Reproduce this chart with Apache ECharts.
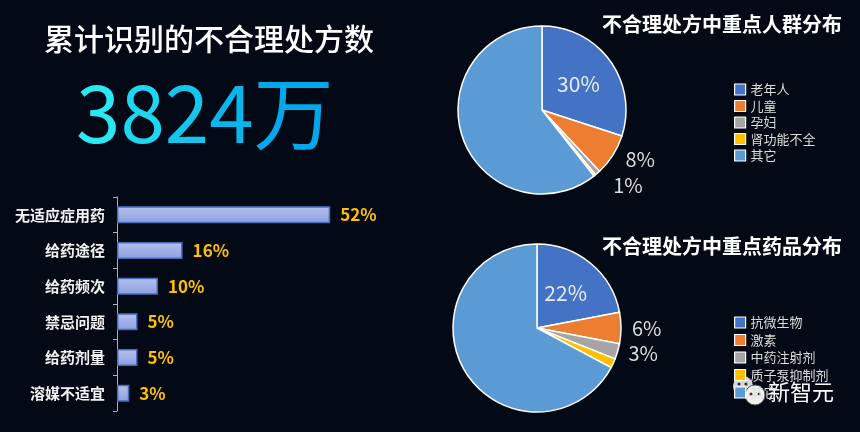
<!DOCTYPE html>
<html>
<head>
<meta charset="utf-8">
<script src="https://cdn.jsdelivr.net/npm/echarts@6/dist/echarts.min.js"></script>
<style>
  html, body { margin: 0; padding: 0; background: #040a15; }
  #main { width: 860px; height: 432px; }
</style>
</head>
<body>
<div id="main"></div>
<script>
// 不合理处方数据
var barCats = ['无适应症用药', '给药途径', '给药频次', '禁忌问题', '给药剂量', '溶媒不适宜'];
var barValues = [52, 16, 10, 5, 5, 3];

var groupNames = ['老年人', '儿童', '孕妇', '肾功能不全', '其它'];
var groupValues = [30, 8, 1, 0.4, 60.6];

var drugNames = ['抗微生物', '激素', '中药注射剂', '质子泵抑制剂', '其它'];
var drugValues = [22, 6, 3, 1.8, 67.2];

var pieColors = ['#4472c4', '#ed7d31', '#a5a5a5', '#ffc000', '#5b9bd5'];
var FONT = '"Noto Sans CJK SC", "Noto Sans", sans-serif';

(function () {
    var chart = echarts.init(document.getElementById('main'));

    // 每个扇区的标签：第一个在内部，指定的在外部，其余不显示
    function pieData(names, values, insideIdx, outsideIdx, lineLen) {
        return names.map(function (n, i) {
            var item = { name: n, value: values[i] };
            var k = outsideIdx.indexOf(i);
            if (i === insideIdx) {
                item.label = { show: true, position: 'inside', color: '#e6ecf6', fontSize: 21 };
            } else if (k >= 0) {
                item.label = { show: true, position: 'outside', color: '#dcdcdc', fontSize: 20 };
                item.labelLine = { show: false, length: lineLen[k], length2: 0 };
            } else {
                item.label = { show: false };
            }
            return item;
        });
    }

    var pieCommon = {
        type: 'pie',
        radius: 84,
        startAngle: 90,
        clockwise: true,
        avoidLabelOverlap: false,
        silent: true,
        itemStyle: { borderColor: '#ffffff', borderWidth: 1.5 },
        label: {
            fontFamily: FONT,
            formatter: function (p) { return Math.round(p.value) + '%'; }
        },
        labelLine: { show: false, length: 6, length2: 0 },
        labelLayout: { hideOverlap: false }
    };

    var legendCommon = {
        orient: 'vertical',
        left: 729,
        itemWidth: 11,
        itemHeight: 11,
        icon: 'rect',
        itemStyle: { borderColor: '#ffffff', borderWidth: 1.2 },
        textStyle: { color: '#dcdcdc', fontSize: 13, fontFamily: FONT },
        selectedMode: false
    };

    var numColors = ['#2ae8f2', '#1ed6f0', '#12c6ee', '#08b6ec', '#02a8ea'];

    var option = {
        backgroundColor: '#040a15',
        color: pieColors,
        animation: false,
        title: [
            {
                text: '不合理处方中重点人群分布',
                left: 597, top: 9,
                textStyle: { color: '#ffffff', fontSize: 20, fontWeight: 'bold', fontFamily: FONT }
            },
            {
                text: '不合理处方中重点药品分布',
                left: 597, top: 231,
                textStyle: { color: '#ffffff', fontSize: 20, fontWeight: 'bold', fontFamily: FONT }
            }
        ],
        legend: [
            Object.assign({}, legendCommon, { top: 78, itemGap: 3.5, data: groupNames }),
            Object.assign({}, legendCommon, { top: 311, itemGap: 4.5, data: drugNames })
        ],
        grid: { left: 117, top: 197, width: 246, height: 214 },
        xAxis: { type: 'value', min: 0, max: 60, show: false },
        yAxis: {
            type: 'category',
            inverse: true,
            data: barCats,
            axisLine: { lineStyle: { color: '#b0b0b0', width: 1 } },
            axisTick: { show: true, length: 4, lineStyle: { color: '#b0b0b0' } },
            axisLabel: { color: '#f2f2f2', fontSize: 15, fontWeight: 'bold', fontFamily: FONT, margin: 12 }
        },
        series: [
            {
                type: 'bar',
                data: barValues,
                barWidth: 17,
                silent: true,
                itemStyle: {
                    color: new echarts.graphic.LinearGradient(0, 0, 0, 1, [
                        { offset: 0, color: '#b4c2ee' },
                        { offset: 1, color: '#8b9fdf' }
                    ]),
                    borderColor: '#4a6cc0',
                    borderWidth: 1.5
                },
                label: {
                    show: true,
                    position: 'right',
                    distance: 10,
                    color: '#ffc000',
                    fontSize: 17,
                    fontWeight: 'bold',
                    fontFamily: FONT,
                    formatter: '{c}%'
                }
            },
            Object.assign({}, pieCommon, {
                center: [542, 110],
                data: pieData(groupNames, groupValues, 0, [1, 2], [9, 16])
            }),
            Object.assign({}, pieCommon, {
                center: [537, 328],
                data: pieData(drugNames, drugValues, 0, [1, 2], [6, 6])
            })
        ],
        graphic: [
            {
                type: 'text',
                left: 44, top: 24,
                style: { text: '累计识别的不合理处方数', fill: '#ffffff', font: '500 30px ' + FONT }
            },
            {
                type: 'text',
                left: 76, top: 73,
                style: {
                    text: '{a|3}{b|8}{c|2}{d|4}{e|万}',
                    font: '80px ' + FONT,
                    rich: {
                        a: { fill: numColors[0], font: '80px ' + FONT },
                        b: { fill: numColors[1], font: '80px ' + FONT },
                        c: { fill: numColors[2], font: '80px ' + FONT },
                        d: { fill: numColors[3], font: '80px ' + FONT },
                        e: { fill: numColors[4], font: '80px ' + FONT }
                    }
                }
            },
            // 水印
            {
                type: 'group',
                left: 733, top: 376,
                children: [
                    { type: 'circle', shape: { cx: 10, cy: 10, r: 10 }, style: { fill: '#d8d8d8' } },
                    { type: 'circle', shape: { cx: 22, cy: 19, r: 10 }, style: { fill: '#f0f0f0', stroke: '#555', lineWidth: 1 } },
                    { type: 'circle', shape: { cx: 6, cy: 8, r: 1.6 }, style: { fill: '#333' } },
                    { type: 'circle', shape: { cx: 13, cy: 8, r: 1.6 }, style: { fill: '#333' } },
                    { type: 'circle', shape: { cx: 18, cy: 18, r: 1.5 }, style: { fill: '#333' } },
                    { type: 'circle', shape: { cx: 26, cy: 18, r: 1.5 }, style: { fill: '#333' } }
                ]
            },
            {
                type: 'text',
                left: 768, top: 381,
                style: { text: '新智元', fill: '#ffffff', font: '22px ' + FONT }
            }
        ]
    };

    chart.setOption(option);
})();
</script>
</body>
</html>
